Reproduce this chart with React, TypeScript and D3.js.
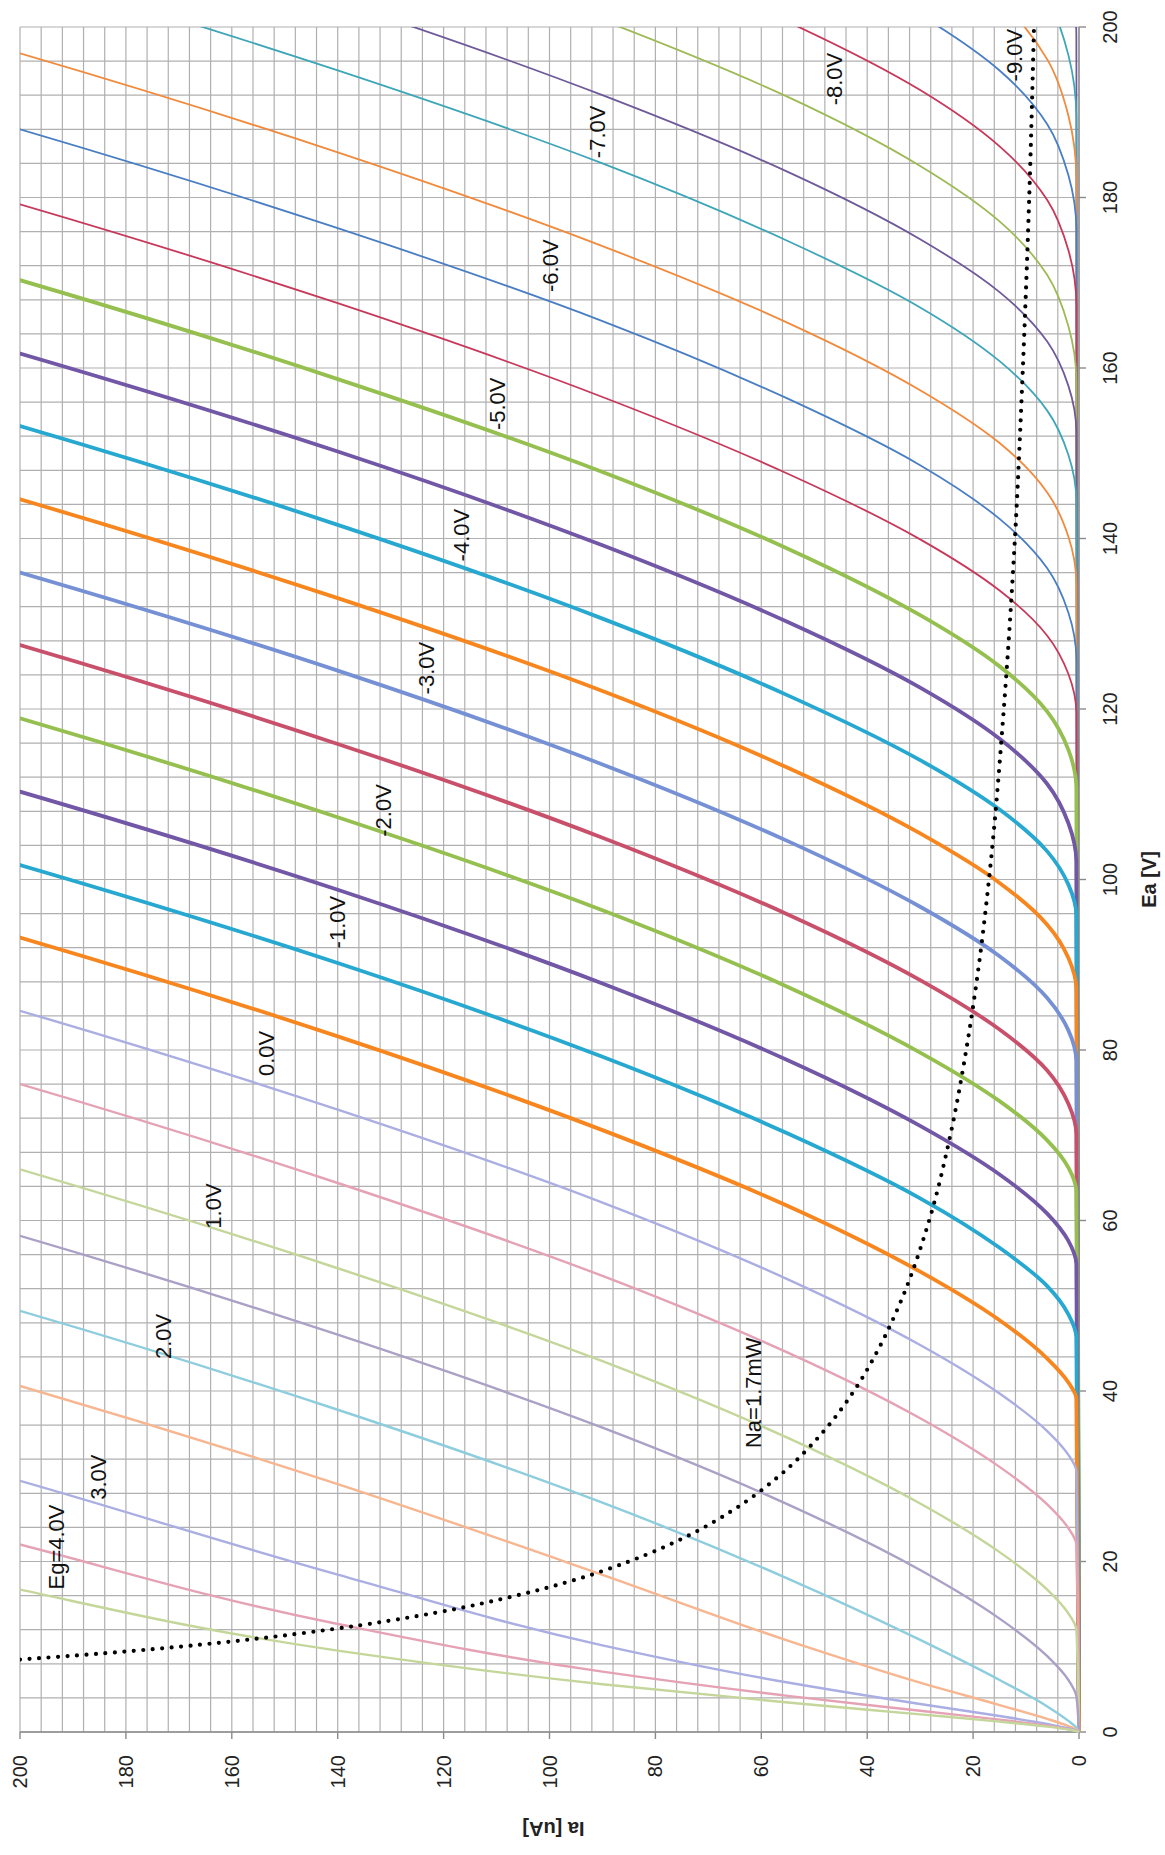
import React from 'react';
import * as d3 from 'd3';

// Grid voltage of every plate characteristic, most negative first (draw order).
const GRID_VOLTAGES = [
  -10.5, -10.0, -9.5, -9.0, -8.5, -8.0, -7.5, -7.0, -6.5, -6.0, -5.5, -5.0, -4.5, -4.0, -3.5,
  -3.0, -2.5, -2.0, -1.5, -1.0, -0.5, 0.0, 0.5, 1.0, 1.5, 2.0, 2.5, 3.0, 3.5, 4.0,
];

// Plate current levels [uA] at which each characteristic is sampled.
const IA_LEVELS = [0.5, 2, 6, 15, 30, 55, 90, 140, 200, 260];

// Plate voltage [V] reached by each characteristic at the current levels above.
const EA_AT_LEVELS = [
  [198.9, 206.2, 212.8, 219.7, 226.6, 234.8, 244.0, 255.0, 266.6, 277.0],
  [189.4, 196.7, 203.3, 210.2, 217.1, 225.3, 234.5, 245.5, 257.1, 267.5],
  [182.3, 189.6, 196.2, 203.1, 209.9, 218.2, 227.4, 238.4, 250.0, 260.4],
  [176.3, 182.6, 188.6, 194.9, 201.4, 209.5, 218.5, 229.5, 241.1, 251.5],
  [167.5, 173.8, 179.7, 186.0, 192.6, 200.6, 209.7, 220.7, 232.3, 242.7],
  [158.6, 164.9, 170.9, 177.2, 183.7, 191.8, 200.8, 211.8, 223.4, 233.8],
  [152.5, 157.9, 163.1, 168.9, 175.1, 183.0, 192.0, 203.0, 214.6, 225.0],
  [144.4, 149.8, 155.0, 160.8, 167.1, 174.9, 184.0, 194.9, 206.5, 216.9],
  [134.8, 140.2, 145.4, 151.2, 157.4, 165.3, 174.3, 185.3, 196.9, 207.3],
  [125.9, 131.3, 136.5, 142.3, 148.6, 156.4, 165.5, 176.4, 188.0, 198.4],
  [119.6, 124.1, 128.6, 133.9, 139.9, 147.6, 156.6, 167.6, 179.2, 189.6],
  [110.7, 115.2, 119.7, 125.0, 131.0, 138.8, 147.8, 158.7, 170.3, 180.7],
  [102.1, 106.6, 111.2, 116.5, 122.5, 130.2, 139.2, 150.2, 161.7, 172.1],
  [95.8, 99.4, 103.3, 108.2, 114.0, 121.6, 130.6, 141.6, 153.2, 163.6],
  [87.2, 90.8, 94.7, 99.6, 105.4, 113.1, 122.1, 133.0, 144.6, 155.0],
  [78.7, 82.3, 86.1, 91.0, 96.8, 104.5, 113.5, 124.5, 136.0, 146.4],
  [70.1, 73.7, 77.6, 82.4, 88.2, 95.9, 104.9, 115.9, 127.5, 137.9],
  [63.4, 66.2, 69.4, 74.0, 79.7, 87.4, 96.4, 107.3, 118.9, 129.3],
  [54.9, 57.6, 60.8, 65.4, 71.1, 78.8, 87.8, 98.8, 110.3, 120.7],
  [46.3, 49.0, 52.3, 56.8, 62.6, 70.2, 79.2, 90.2, 101.7, 112.1],
  [39.1, 41.0, 43.8, 48.3, 54.0, 61.7, 70.6, 81.6, 93.2, 103.6],
  [30.6, 32.5, 35.3, 39.7, 45.4, 53.1, 62.1, 73.0, 84.6, 95.0],
  [22.0, 23.9, 26.7, 31.1, 36.8, 44.5, 53.5, 64.4, 76.0, 86.4],
  [12.0, 13.9, 16.7, 21.1, 26.8, 34.5, 43.5, 54.4, 66.0, 76.4],
  [4.2, 6.1, 8.9, 13.3, 19.0, 26.7, 35.7, 46.6, 58.2, 68.6],
  [0.5, 1.3, 3.0, 6.1, 10.8, 18.0, 26.9, 37.8, 49.4, 59.8],
  [0.27, 0.7, 1.55, 3.16, 5.79, 10.72, 18.44, 29.08, 40.6, 51.0],
  [0.17, 0.44, 0.94, 1.87, 3.28, 5.8, 10.17, 18.47, 29.46, 39.85],
  [0.13, 0.34, 0.74, 1.45, 2.49, 4.24, 7.08, 12.67, 22.0, 32.1],
  [0.11, 0.29, 0.63, 1.22, 2.07, 3.46, 5.6, 9.55, 16.7, 26.0],
];

// Anode dissipation limit Na = 1.7 mW (Ia = 1.7 mW / Ea).
const POWER_EA = [8.5, 9, 10, 11, 12, 14, 16, 18, 20, 23, 26, 30, 35, 40, 45, 50, 60, 70, 80, 90, 100, 120, 140, 160, 180, 200];
const POWER_IA = [200, 188.9, 170, 154.5, 141.7, 121.4, 106.3, 94.4, 85, 73.9, 65.4, 56.7, 48.6, 42.5, 37.8, 34, 28.3, 24.3, 21.3, 18.9, 17, 14.2, 12.1, 10.6, 9.4, 8.5];

// Curve annotations: text and anchor in data units.
const LABEL_TEXT = ['Eg=4.0V', '3.0V', '2.0V', '1.0V', '0.0V', '-1.0V', '-2.0V', '-3.0V', '-4.0V', '-5.0V', '-6.0V', '-7.0V', '-8.0V', '-9.0V', 'Na=1.7mW'];
const LABEL_EA = [21.7, 29.9, 46.4, 61.7, 79.6, 95.0, 108.1, 124.8, 140.4, 155.8, 172.0, 187.7, 193.9, 196.7, 39.8];
const LABEL_IA = [193.2, 185.3, 173.0, 163.5, 153.5, 140.1, 131.3, 123.3, 116.7, 109.9, 99.9, 91.0, 46.3, 12.3, 61.6];

const EA_TICKS = [0, 20, 40, 60, 80, 100, 120, 140, 160, 180, 200];
const IA_TICKS = [0, 20, 40, 60, 80, 100, 120, 140, 160, 180, 200];

const THIN_COLORS = ['#4A7EC4', '#C8385A', '#9DBA55', '#6E5A9A', '#3EA6B8', '#F28A3C'];
const THICK_COLORS = ['#7590D4', '#C9506B', '#95C050', '#7157A6', '#27A8D0', '#F7861E'];
const PALE_COLORS = ['#AAAEE2', '#E5A2B4', '#C4D699', '#ABA0C6', '#8ECDDE', '#F7B690'];

const FONT = "'Liberation Sans', Arial, sans-serif";

function curveStyle(eg: number) {
  const idx = ((Math.round((eg + 6) * 2) % 6) + 6) % 6;
  if (eg <= -5.5) return { color: THIN_COLORS[idx], width: 1.8 };
  if (eg <= -0.5) return { color: THICK_COLORS[idx], width: 3.8 };
  return { color: PALE_COLORS[idx], width: 2.4 };
}

export default function App() {
  const width = 1165;
  const height = 1855;
  // The chart is laid out with Ea horizontal / Ia vertical, then turned a quarter turn.
  const left = 20;
  const bottom = 1732;
  const eaLen = 1705;
  const iaLen = 1059;

  const x = d3.scaleLinear().domain([0, 200]).range([0, eaLen]);
  const y = d3.scaleLinear().domain([0, 200]).range([iaLen, 0]);

  const gridEa = d3.range(0, 201, 4);
  const gridIa = d3.range(0, 201, 4);

  const line = d3
    .line<[number, number]>()
    .x((d) => x(d[0]))
    .y((d) => y(d[1]))
    .curve(d3.curveMonotoneX);

  const curves = GRID_VOLTAGES.map((eg, i) => {
    const pts: [number, number][] = [[0, 0]];
    IA_LEVELS.forEach((ia, j) => pts.push([EA_AT_LEVELS[i][j], ia]));
    return { eg, d: line(pts) as string, ...curveStyle(eg) };
  });

  const powerPts: [number, number][] = POWER_EA.map((ea, i) => [ea, POWER_IA[i]]);
  const powerPath = line(powerPts) as string;

  return (
    <svg
      width={width}
      height={height}
      style={{ position: 'absolute', left: 0, top: 0, background: '#fff' }}
      fontFamily={FONT}
    >
      <defs>
        <clipPath id="plotClip">
          <rect x={-3} y={0} width={eaLen + 3} height={iaLen + 3} />
        </clipPath>
      </defs>
      <rect x={0} y={0} width={width} height={height} fill="#fff" />
      <g transform={`translate(${left},${bottom}) rotate(-90)`}>
        {/* gridlines */}
        {gridEa.map((v) => (
          <line key={'ge' + v} x1={x(v)} x2={x(v)} y1={0} y2={iaLen} stroke="#b0b0b0" strokeWidth={1.2} />
        ))}
        {gridIa.map((v) => (
          <line key={'gi' + v} x1={0} x2={eaLen} y1={y(v)} y2={y(v)} stroke="#b0b0b0" strokeWidth={1.2} />
        ))}
        {/* axes */}
        <line x1={0} x2={eaLen} y1={iaLen} y2={iaLen} stroke="#8a8a8a" strokeWidth={1.4} />
        <line x1={0} x2={0} y1={0} y2={iaLen} stroke="#8a8a8a" strokeWidth={1.4} />
        {EA_TICKS.map((v) => (
          <line key={'te' + v} x1={x(v)} x2={x(v)} y1={iaLen} y2={iaLen + 7} stroke="#8a8a8a" strokeWidth={1.4} />
        ))}
        {IA_TICKS.map((v) => (
          <line key={'ti' + v} x1={0} x2={-7} y1={y(v)} y2={y(v)} stroke="#8a8a8a" strokeWidth={1.4} />
        ))}
        {EA_TICKS.map((v) => (
          <text key={'le' + v} x={x(v)} y={iaLen + 38} textAnchor="middle" fontSize={20} fill="#222">
            {v}
          </text>
        ))}
        {IA_TICKS.map((v) => (
          <text key={'li' + v} x={-23} y={y(v)} dy="0.35em" textAnchor="end" fontSize={20} fill="#222">
            {v}
          </text>
        ))}
        <text x={x(100)} y={iaLen + 77} textAnchor="middle" fontSize={20} fontWeight="bold" fill="#222">
          Ea [V]
        </text>
        <text
          transform={`translate(-90,${y(100) + 4}) rotate(-90)`}
          textAnchor="middle"
          fontSize={20}
          fontWeight="bold"
          fill="#222"
        >
          Ia [uA]
        </text>

        {/* characteristics */}
        <g clipPath="url(#plotClip)">
          {curves.map((c) => (
            <path key={c.eg} d={c.d} fill="none" stroke={c.color} strokeWidth={c.width} strokeLinejoin="round" />
          ))}
          <path
            d={powerPath}
            fill="none"
            stroke="#000"
            strokeWidth={4.2}
            strokeLinecap="round"
            strokeDasharray="0 9.5"
          />
        </g>

        {LABEL_TEXT.map((t, i) => (
          <text
            key={'lab' + i}
            x={x(LABEL_EA[i])}
            y={y(LABEL_IA[i])}
            dy="0.35em"
            textAnchor="middle"
            fontSize={22}
            fill="#111"
          >
            {t}
          </text>
        ))}
      </g>
    </svg>
  );
}
